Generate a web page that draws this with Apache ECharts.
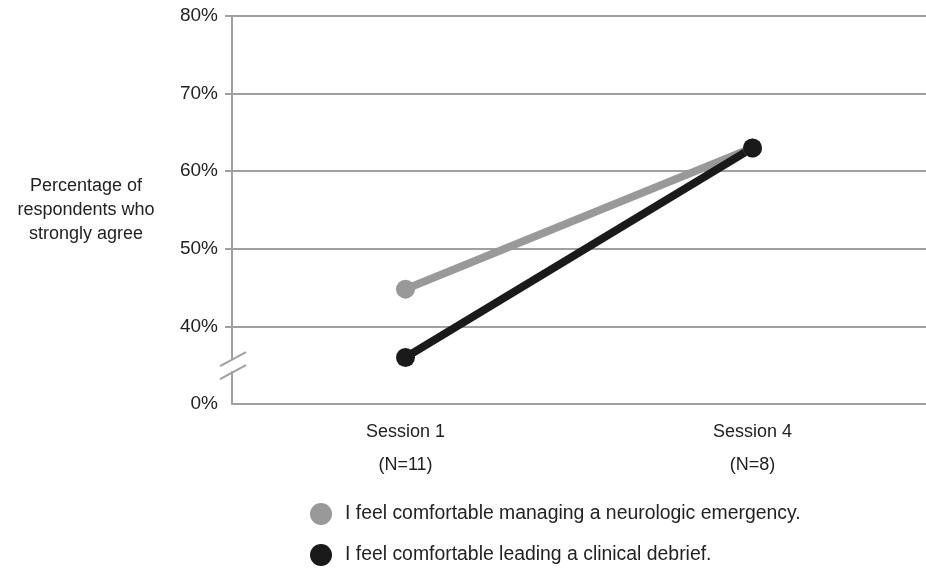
<!DOCTYPE html>
<html>
<head>
<meta charset="utf-8">
<script src="https://cdn.jsdelivr.net/npm/echarts@6/dist/echarts.min.js"></script>
<style>
  html, body { margin: 0; padding: 0; background: #fff; }
  #main { width: 926px; height: 568px; }
</style>
</head>
<body>
<div id="main"></div>
<script>
let sessions = ['Session 1', 'Session 4'];
let sampleSizes = ['(N=11)', '(N=8)'];
let neuroEmergency = [44.8, 63];
let clinicalDebrief = [36, 63];
let seriesNames = [
  'I feel comfortable managing a neurologic emergency.',
  'I feel comfortable leading a clinical debrief.'
];
// axis is broken: the bottom tick (30) is shown as 0%
let axisMin = 30;
let tickValues = [40, 50, 60, 70, 80];

let myChart = echarts.init(document.getElementById('main'));
let font = 'Liberation Sans, Arial, sans-serif';
let gray = '#a0a0a0';

myChart.setOption({
  animation: false,
  color: ['#999999', '#1a1a1a'],
  textStyle: { fontFamily: font },
  grid: {
    left: 232,
    right: -9,
    top: 16,
    bottom: 164
  },
  legend: {
    orient: 'vertical',
    left: 310,
    top: 503,
    padding: 0,
    itemWidth: 22,
    itemHeight: 22,
    itemGap: 19,
    icon: 'circle',
    textStyle: { fontSize: 19.4, color: '#222', fontFamily: font, padding: [0, 0, 0, 8] },
    data: seriesNames
  },
  xAxis: {
    type: 'category',
    data: sessions,
    axisLine: { lineStyle: { color: gray, width: 2 } },
    axisTick: { length: 7, lineStyle: { color: gray, width: 2 } },
    axisLabel: {
      margin: 12,
      color: '#222',
      fontSize: 18,
      lineHeight: 33,
      formatter: function (v, i) { return v + '\n' + sampleSizes[i]; }
    }
  },
  yAxis: {
    type: 'value',
    min: axisMin,
    max: 80,
    interval: 10,
    name: 'Percentage of\nrespondents who\nstrongly agree',
    nameLocation: 'middle',
    nameRotate: 0,
    nameGap: 146,
    nameTextStyle: { fontSize: 18, lineHeight: 24, color: '#222', align: 'center', fontFamily: font },
    axisLine: { show: true, lineStyle: { color: gray, width: 2 } },
    axisTick: { show: true, length: 7, customValues: tickValues, lineStyle: { color: gray, width: 2 } },
    splitLine: { lineStyle: { color: gray, width: 2 } },
    axisLabel: {
      margin: 14,
      fontSize: 19,
      color: '#222',
      formatter: function (v) { return (v === axisMin ? 0 : v) + '%'; }
    }
  },
  series: [
    {
      name: seriesNames[0],
      type: 'line',
      data: neuroEmergency,
      symbol: 'circle',
      symbolSize: 19,
      lineStyle: { width: 8, color: '#999999' },
      itemStyle: { color: '#999999' }
    },
    {
      name: seriesNames[1],
      type: 'line',
      data: clinicalDebrief,
      symbol: 'circle',
      symbolSize: 19,
      lineStyle: { width: 8, color: '#1a1a1a' },
      itemStyle: { color: '#1a1a1a' }
    }
  ]
});

// break mark on the y axis, halfway between the 0% and 40% ticks
let p = myChart.convertToPixel({ xAxisIndex: 0, yAxisIndex: 0 }, [0, axisMin + 5]);
let ax = myChart.getModel().getComponent('grid').coordinateSystem.getRect().x;
let by = p[1];
myChart.setOption({
  graphic: [
    { type: 'rect', shape: { x: ax - 3, y: by - 6, width: 6, height: 12 }, style: { fill: '#fff' }, z: 10 },
    { type: 'line', shape: { x1: ax - 12, y1: by + 1, x2: ax + 14, y2: by - 13 }, style: { stroke: gray, lineWidth: 2 }, z: 11 },
    { type: 'line', shape: { x1: ax - 12, y1: by + 14, x2: ax + 14, y2: by }, style: { stroke: gray, lineWidth: 2 }, z: 11 }
  ]
});
</script>
</body>
</html>
